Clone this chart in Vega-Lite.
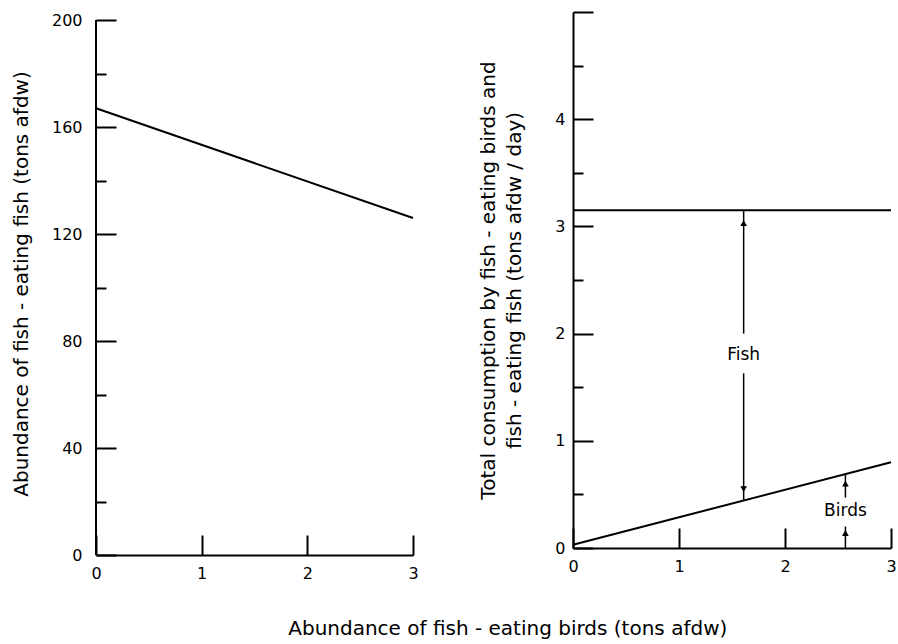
{
  "$schema": "https://vega.github.io/schema/vega-lite/v6.json",
  "padding": {"left": 11, "top": 11, "right": 5, "bottom": 5},
  "config": {
    "font": "DejaVu Sans",
    "view": {"stroke": null},
    "axis": {
      "grid": false,
      "domainColor": "black",
      "domainWidth": 2,
      "tickColor": "black",
      "tickWidth": 2,
      "labelColor": "black",
      "titleColor": "black",
      "labelFont": "DejaVu Sans",
      "titleFont": "DejaVu Sans",
      "labelFontSize": 16,
      "titleFontSize": 20,
      "titleFontWeight": "normal"
    }
  },
  "title": {
    "text": "Abundance of fish - eating birds (tons afdw)",
    "orient": "bottom",
    "anchor": "middle",
    "fontSize": 20,
    "fontWeight": "normal",
    "font": "DejaVu Sans",
    "color": "black",
    "offset": 38,
    "dx": 54
  },
  "spacing": 59,
  "hconcat": [
    {
      "width": 317,
      "height": 543,
      "encoding": {
        "x": {
          "field": "birds",
          "type": "quantitative",
          "scale": {"domain": [0, 3], "nice": false, "zero": false},
          "axis": {
            "title": null,
            "values": [0, 1, 2, 3],
            "tickSize": -20,
            "labelPadding": 30,
            "labelFlush": false
          }
        },
        "y": {
          "field": "fish",
          "type": "quantitative",
          "scale": {"domain": [0, 203], "nice": false},
          "axis": {
            "title": "Abundance of fish - eating fish (tons afdw)",
            "values": [0, 20, 40, 60, 80, 100, 120, 140, 160, 180, 200],
            "labelExpr": "datum.value % 40 == 0 ? datum.label : ''",
            "tickSize": {"condition": {"test": "datum.value % 40 == 0", "value": -20}, "value": -10},
            "domain": false,
            "labelPadding": 34,
            "titlePadding": 20,
            "labelFlush": false
          }
        }
      },
      "layer": [
        {
          "data": {"values": [{"birds": 0, "fish": 0, "fish2": 200}]},
          "mark": {"type": "rule", "color": "black", "strokeWidth": 2},
          "encoding": {"y2": {"field": "fish2"}}
        },
        {
          "data": {"values": [{"birds": 0, "fish": 167}, {"birds": 3, "fish": 126}]},
          "mark": {"type": "line", "color": "black", "strokeWidth": 2}
        }
      ]
    },
    {
      "width": 318,
      "height": 536,
      "encoding": {
        "x": {
          "field": "birds",
          "type": "quantitative",
          "scale": {"domain": [0, 3], "nice": false, "zero": false},
          "axis": {
            "title": null,
            "values": [0, 1, 2, 3],
            "tickSize": -20,
            "labelPadding": 30,
            "labelFlush": false
          }
        },
        "y": {
          "field": "cons",
          "type": "quantitative",
          "scale": {"domain": [0, 5], "nice": false},
          "axis": {
            "title": ["Total consumption by fish - eating birds and", "fish - eating fish (tons afdw / day)"],
            "titleLineHeight": 26,
            "values": [0, 0.5, 1, 1.5, 2, 2.5, 3, 3.5, 4, 4.5, 5],
            "labelExpr": "datum.value % 1 == 0 && datum.value < 5 ? format(datum.value, 'd') : ''",
            "tickSize": {"condition": {"test": "datum.value % 1 == 0", "value": -20}, "value": -10},
            "labelPadding": 28,
            "titlePadding": 30,
            "labelFlush": false
          }
        }
      },
      "layer": [
        {
          "data": {"values": [
            {"birds": 0, "cons": 3.15, "series": "total"},
            {"birds": 3, "cons": 3.15, "series": "total"},
            {"birds": 0, "cons": 0.03, "series": "birds"},
            {"birds": 3, "cons": 0.8, "series": "birds"}
          ]},
          "mark": {"type": "line", "color": "black", "strokeWidth": 2},
          "encoding": {"detail": {"field": "series"}}
        },
        {
          "data": {"values": [
            {"birds": 1.61, "cons": 3.15, "cons2": 2.0},
            {"birds": 1.61, "cons": 1.63, "cons2": 0.45},
            {"birds": 2.57, "cons": 0.69, "cons2": 0.47},
            {"birds": 2.57, "cons": 0.2, "cons2": 0}
          ]},
          "mark": {"type": "rule", "color": "black", "strokeWidth": 1.5},
          "encoding": {"y2": {"field": "cons2"}}
        },
        {
          "data": {"values": [
            {"birds": 1.61, "cons": 3.03, "dir": "up"},
            {"birds": 1.61, "cons": 0.55, "dir": "down"},
            {"birds": 2.57, "cons": 0.6, "dir": "up"},
            {"birds": 2.57, "cons": 0.14, "dir": "up"}
          ]},
          "mark": {"type": "point", "filled": true, "color": "black", "opacity": 1, "size": 45},
          "encoding": {
            "shape": {
              "field": "dir",
              "type": "nominal",
              "scale": {"domain": ["up", "down"], "range": ["triangle-up", "triangle-down"]},
              "legend": null
            }
          }
        },
        {
          "data": {"values": [
            {"birds": 1.61, "cons": 1.8, "label": "Fish"},
            {"birds": 2.57, "cons": 0.345, "label": "Birds"}
          ]},
          "mark": {"type": "text", "color": "black", "fontSize": 17, "font": "DejaVu Sans"},
          "encoding": {"text": {"field": "label"}}
        }
      ]
    }
  ]
}
